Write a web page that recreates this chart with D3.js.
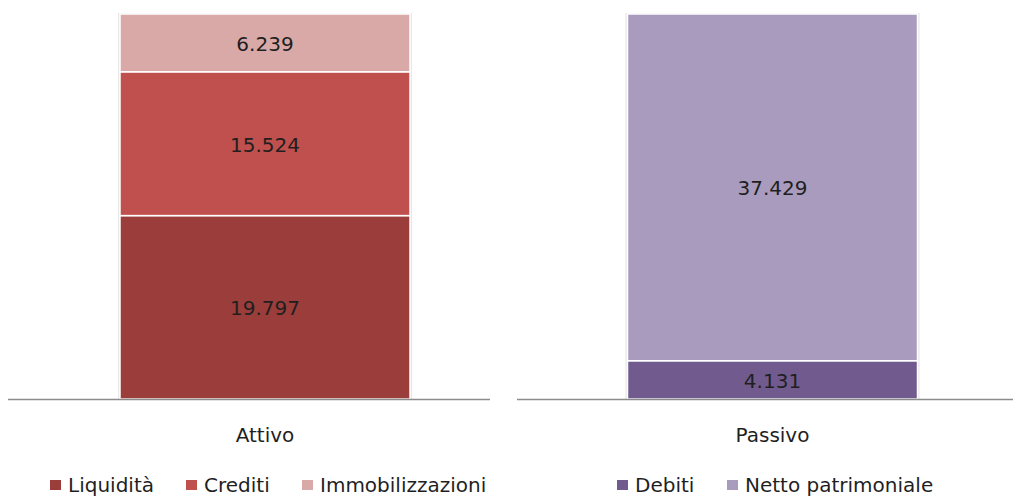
<html lang="it">
<head>
    <meta charset="UTF-8">
    <title>Attivo / Passivo</title>
    <script src="https://d3js.org/d3.v7.min.js"></script>
    <style>
        body { margin: 0; background: #fff; }
        text { font-family: "DejaVu Sans", sans-serif; fill: #1f1f1f; }
    </style>
</head>
<body>
    <svg width="1013" height="496"></svg>
    <script>
        // data
        var attivoKeys = ["Liquidità", "Crediti", "Immobilizzazioni"],
            attivoValues = [19797, 15524, 6239],
            attivoColors = ["#9b3d3b", "#c0504d", "#d9a9a8"];
        var passivoKeys = ["Debiti", "Netto patrimoniale"],
            passivoValues = [4131, 37429],
            passivoColors = ["#715a8e", "#a99bbd"];
        var categories = ["Attivo", "Passivo"];

        var it = d3.formatLocale({ decimal: ",", thousands: ".", grouping: [3], currency: ["€", ""] });
        var fmt = it.format(",d");

        var svg = d3.select("svg"),
            baseY = 399, topY = 14;

        var total = d3.max([d3.sum(attivoValues), d3.sum(passivoValues)]);
        var yScale = d3.scaleLinear().domain([0, total]).range([baseY, topY]);

        function panel(cat, keys, values, colors, range, lineExt, legendX) {
            var xScale = d3.scaleBand().domain([cat]).range(range).paddingInner(0).paddingOuter(
                ((range[1] - range[0]) / 290 - 1) / 2);
            var g = svg.append("g");

            var stack = [], acc = 0;
            values.forEach(function (v, i) {
                stack.push({ key: keys[i], y0: acc, y1: acc + v, v: v, c: colors[i] });
                acc += v;
            });

            // soft shadow
            g.append("rect")
                .attr("x", xScale(cat) - 2)
                .attr("y", yScale(acc) - 1)
                .attr("width", xScale.bandwidth() + 4)
                .attr("height", baseY - yScale(acc) + 1)
                .attr("fill", "#e8e8e8");

            g.selectAll(".seg")
                .data(stack)
                .enter().append("rect")
                .attr("class", "seg")
                .attr("x", xScale(cat))
                .attr("y", function (d) { return yScale(d.y1); })
                .attr("width", xScale.bandwidth())
                .attr("height", function (d) { return yScale(d.y0) - yScale(d.y1); })
                .attr("fill", function (d) { return d.c; })
                .attr("stroke", "#fff")
                .attr("stroke-width", 1.5);

            g.selectAll(".lbl")
                .data(stack)
                .enter().append("text")
                .attr("x", xScale(cat) + xScale.bandwidth() / 2)
                .attr("y", function (d) { return (yScale(d.y0) + yScale(d.y1)) / 2; })
                .attr("dy", "0.4em")
                .attr("text-anchor", "middle")
                .style("font-size", "20px")
                .text(function (d) { return fmt(d.v); });

            g.append("line")
                .attr("x1", lineExt[0]).attr("x2", lineExt[1])
                .attr("y1", baseY + 0.5).attr("y2", baseY + 0.5)
                .attr("stroke", "#8c8c8c")
                .attr("stroke-width", 1.5);

            g.append("text")
                .attr("x", xScale(cat) + xScale.bandwidth() / 2)
                .attr("y", 442)
                .attr("text-anchor", "middle")
                .style("font-size", "20px")
                .text(cat);

            var lg = g.selectAll(".leg")
                .data(stack)
                .enter().append("g")
                .attr("transform", function (d, i) { return "translate(" + legendX[i] + ",480)"; });
            lg.append("rect")
                .attr("x", 0).attr("y", 0)
                .attr("width", 11).attr("height", 10)
                .attr("fill", function (d) { return d.c; });
            lg.append("text")
                .attr("x", 18).attr("y", 12)
                .style("font-size", "20px")
                .text(function (d) { return d.key; });
        }

        panel(categories[0], attivoKeys, attivoValues, attivoColors, [40, 490], [8, 490], [50, 186, 302]);
        panel(categories[1], passivoKeys, passivoValues, passivoColors, [545, 1000], [517, 1013], [617, 727]);
    </script>
</body>
</html>
